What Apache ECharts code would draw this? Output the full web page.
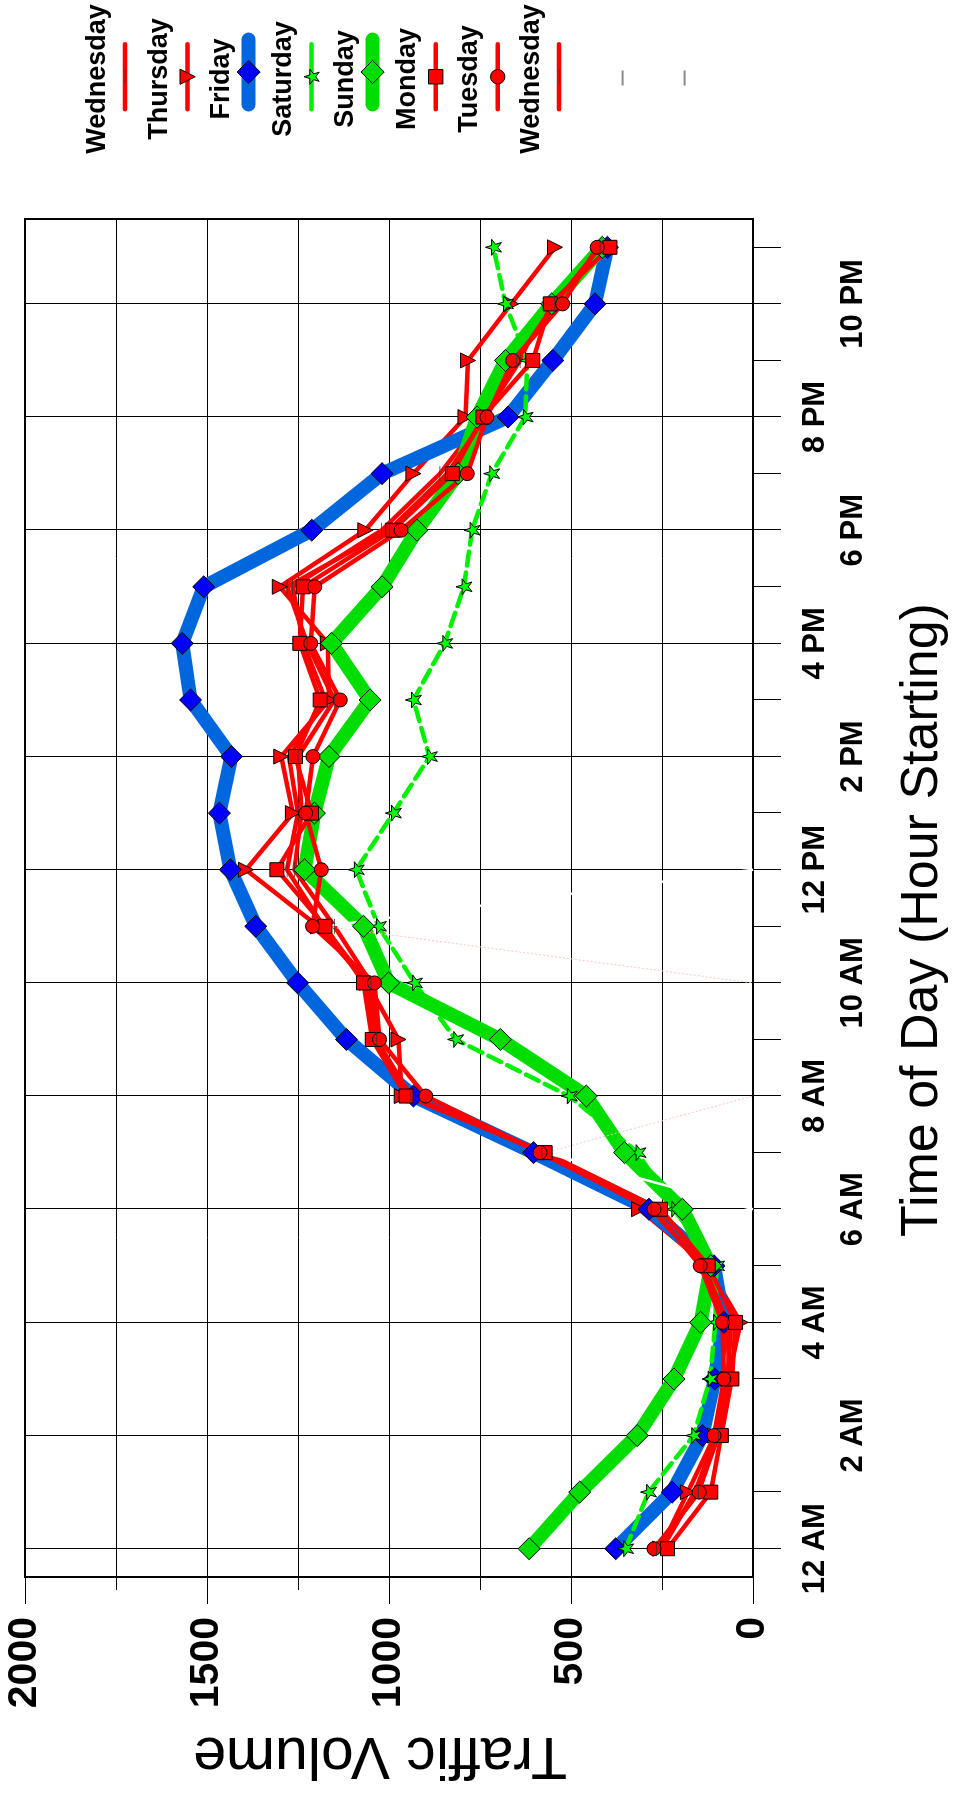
<!DOCTYPE html>
<html>
<head>
<meta charset="utf-8">
<script src="https://cdn.jsdelivr.net/npm/echarts@6.0.0/dist/echarts.min.js"></script>
<style>
html, body { margin: 0; padding: 0; width: 960px; height: 1796px; overflow: hidden; background: #ffffff; }
#chart { position: absolute; left: -418px; top: 418px; width: 1796px; height: 960px;
         transform: rotate(-90deg); transform-origin: 50% 50%; }
</style>
</head>
<body>
<div id="chart"></div>
<script>
// ---- tick labels (hour starting) ----
const hours = ['12 AM','1 AM','2 AM','3 AM','4 AM','5 AM','6 AM','7 AM','8 AM','9 AM','10 AM','11 AM',
               '12 PM','1 PM','2 PM','3 PM','4 PM','5 PM','6 PM','7 PM','8 PM','9 PM','10 PM','11 PM'];

// ---- series values (traffic volume per hour) ----
const wednesday1 = [250,160,100,70,60,130,290,575,950,1040,1060,1180,1280,1250,1275,1175,1235,1265,1020,860,740,640,570,410];
const thursday   = [255,179,105,68,34,125,313,575,965,974,1060,1195,1393,1264,1296,1165,1168,1300,1065,933,790,783,664,544];
const friday     = [377,222,139,105,80,107,286,603,933,1117,1251,1366,1436,1466,1433,1545,1568,1509,1212,1019,673,550,434,400];
const saturday   = [350,287,163,118,103,100,218,316,505,817,930,1029,1090,988,889,933,847,794,772,718,626,620,680,713];
const sunday     = [615,476,318,217,144,116,194,353,458,694,1001,1070,1232,1205,1165,1052,1158,1019,923,810,758,680,553,414];
const monday     = [235,116,87,58,48,123,254,571,953,1046,1070,1176,1308,1213,1257,1189,1245,1236,990,826,742,605,557,393];
const tuesday    = [272,148,107,80,84,145,272,585,899,1026,1040,1210,1186,1229,1209,1134,1215,1204,967,785,731,660,523,428];
const wednesday2 = [265,150,95,65,70,135,280,580,940,1035,1050,1150,1260,1240,1250,1150,1225,1280,1000,840,735,650,545,420];

// stray outline strokes visible in the original picture: [hour index, volume]
const strayWhiteA = [[6,0],[7,571]];
const strayWhiteB = [[12,0],[11,1176]];
const strayPinkA  = [[7,571],[8,0]];
const strayPinkB  = [[11,1176],[10,0]];

// legend texts (as printed)
const legendLabels = ['Wednesday','Thursday','Friday','Saturday','Sunday','Monday','Tuesday','Wednesday'];
const gridHours = ['12 AM','2 AM','4 AM','6 AM','8 AM','10 AM','12 PM','2 PM','4 PM','6 PM','8 PM','10 PM'];

const FONT = "'Liberation Sans', Arial, sans-serif";
const STAR = 'path://M50,0 L61,35 L98,35 L68,57 L79,91 L50,70 L21,91 L32,57 L2,35 L39,35 Z';
// thin dash inside a square bounding box (degenerate corner points keep the box square)
const DASH = 'path://M0,0 L0.01,0 L0,0.01 Z M0,9.5 H20 V10.5 H0 Z M20,20 L19.99,20 L20,19.99 Z';

function mk(name, data, o) {
  return {
    type: 'line', name: name, data: data,
    symbol: o.symbol, symbolSize: o.size, symbolRotate: o.rotate || 0,
    showAllSymbol: true,
    lineStyle: { color: o.line, width: o.width, type: o.type || 'solid', cap: 'round', join: 'round' },
    itemStyle: { color: o.fill, borderColor: o.border || '#000', borderWidth: o.bw === undefined ? 1 : o.bw },
    emphasis: { disabled: true }, animation: false
  };
}

const seriesDefs = [
  mk('Wednesday',  wednesday1, { symbol: DASH, size: 15, line: '#ff0000', width: 4.5, fill: '#333', bw: 0 }),
  mk('Thursday',   thursday,   { symbol: 'triangle', size: 15, rotate: 180, line: '#ff0000', width: 4.5, fill: '#ff0000' }),
  mk('Friday',     friday,     { symbol: 'diamond', size: 22, line: '#0066dd', width: 14, fill: '#0000ff' }),
  mk('Saturday',   saturday,   { symbol: STAR, size: 16, line: '#00f000', width: 4.5, type: [14, 7], fill: '#00ff00' }),
  mk('Sunday',     sunday,     { symbol: 'diamond', size: 22, line: '#00dd00', width: 14, fill: '#00dd00' }),
  mk('Monday',     monday,     { symbol: 'rect', size: 14, line: '#ff0000', width: 4.5, fill: '#ff0000' }),
  mk('Tuesday',    tuesday,    { symbol: 'circle', size: 14, line: '#ff0000', width: 4.5, fill: '#ff0000' }),
  mk('Wednesday ', wednesday2, { symbol: DASH, size: 15, line: '#ff0000', width: 4.5, fill: '#333', bw: 0 })
];

const strayDefs = [
  { name: 'stray1', data: strayWhiteA, color: '#ffffff', width: 2.5, type: 'solid' },
  { name: 'stray2', data: strayPinkA,  color: '#ffc4c4', width: 1,   type: [2, 2] },
  { name: 'stray1', data: strayWhiteB, color: '#ffffff', width: 2.5, type: 'solid' },
  { name: 'stray2', data: strayPinkB,  color: '#ffc4c4', width: 1,   type: [2, 2] }
].map(d => ({
  type: 'line', name: d.name, data: d.data, symbol: 'none', silent: true,
  lineStyle: { color: d.color, width: d.width, type: d.type },
  itemStyle: { color: d.color }, emphasis: { disabled: true }, animation: false
}));

// vertical grid lines at the labelled (even) hours
const gridSeries = {
  type: 'line', name: 'hour-grid', data: [], silent: true, animation: false,
  markLine: {
    silent: true, z: 1, symbol: ['none', 'none'], animation: false,
    label: { show: false },
    lineStyle: { color: '#000', width: 1, type: 'solid' },
    emphasis: { disabled: true },
    data: gridHours.map(h => ({ xAxis: h }))
  }
};

// ---- legends: text row above its symbol row ----
const legendX = 1717;
const textCenters = [98, 160, 222, 284, 346, 408, 470, 532];
const iconCenters = [127, 189, 251, 313, 375, 437, 499, 561];
const iconHeights = [19, 19, 29, 19, 29, 18, 18, 19];
const legends = [];
seriesDefs.forEach((s, i) => {
  legends.push({
    data: [s.name], selectedMode: false, padding: 0, itemGap: 0,
    left: legendX - 100, top: textCenters[i] - 15,
    icon: 'none', itemWidth: 0, itemHeight: 30,
    formatter: () => '{t|' + legendLabels[i] + '}',
    textStyle: { rich: { t: { width: 190, align: 'center', fontSize: 27, fontWeight: 'bold',
                              fontFamily: FONT, color: '#000', lineHeight: 30 } } }
  });
  const o = {
    data: [{ name: s.name }], selectedMode: false, padding: 0, itemGap: 0,
    left: legendX - 32.5, top: iconCenters[i] - iconHeights[i] / 2,
    itemWidth: 65, itemHeight: iconHeights[i],
    formatter: () => '', textStyle: { fontSize: 1, lineHeight: 1 },
    lineStyle: { width: 'inherit', cap: 'round' },
    itemStyle: { borderWidth: 'inherit' }
  };
  if (s.name === 'Saturday') o.lineStyle.type = 'solid';
  legends.push(o);
});
[['stray1', 623], ['stray2', 685]].forEach(([nm, cy]) => {
  legends.push({
    data: [nm], selectedMode: false, padding: 0, itemGap: 0,
    left: legendX - 7.5, top: cy - 2, itemWidth: 15, itemHeight: 4,
    formatter: () => '', textStyle: { fontSize: 1, lineHeight: 1 },
    lineStyle: { color: '#8a8a8a', width: 2, type: 'solid' },
    itemStyle: { opacity: 0 }
  });
});

const chart = echarts.init(document.getElementById('chart'), null, { renderer: 'canvas' });
chart.setOption({
  animation: false,
  backgroundColor: '#ffffff',
  textStyle: { fontFamily: FONT },
  grid: { left: 219, right: 219, top: 25, bottom: 207, show: true, borderColor: '#000', borderWidth: 2, backgroundColor: 'transparent' },
  legend: legends,
  xAxis: {
    type: 'category', data: hours, boundaryGap: true,
    axisLine: { show: true, lineStyle: { color: '#000', width: 2 } },
    axisTick: { show: true, alignWithLabel: true, interval: 0, length: 28, lineStyle: { color: '#000', width: 1 } },
    axisLabel: {
      interval: (i) => i % 2 === 0,
      formatter: (v, i) => (i % 4 === 2 ? '\n' + v : v),
      fontSize: 31, fontWeight: 'bold', fontFamily: FONT, color: '#000', margin: 43, lineHeight: 38
    },
    splitLine: { show: false },
    name: 'Time of Day (Hour Starting)', nameLocation: 'middle', nameGap: 144,
    nameTextStyle: { fontSize: 52, fontFamily: FONT, color: '#000', padding: [0, 44, 0, 0] }
  },
  yAxis: {
    type: 'value', min: 0, max: 2000, interval: 500,
    axisLine: { show: true, lineStyle: { color: '#000', width: 2 } },
    axisTick: { show: true, length: 27, lineStyle: { color: '#000', width: 1 } },
    minorTick: { show: true, splitNumber: 2, length: 13, lineStyle: { color: '#000', width: 1 } },
    splitLine: { show: true, lineStyle: { color: '#000', width: 1 } },
    minorSplitLine: { show: true, lineStyle: { color: '#000', width: 1 } },
    axisLabel: { formatter: (v) => String(v), fontSize: 41, fontWeight: 'bold', fontFamily: FONT, color: '#000', margin: 40 },
    name: 'Traffic Volume', nameLocation: 'middle', nameGap: 148,
    nameTextStyle: { fontSize: 59, fontFamily: FONT, color: '#000', padding: [0, 0, 0, 18] }
  },
  series: [gridSeries].concat(seriesDefs, strayDefs)
});
</script>
</body>
</html>
